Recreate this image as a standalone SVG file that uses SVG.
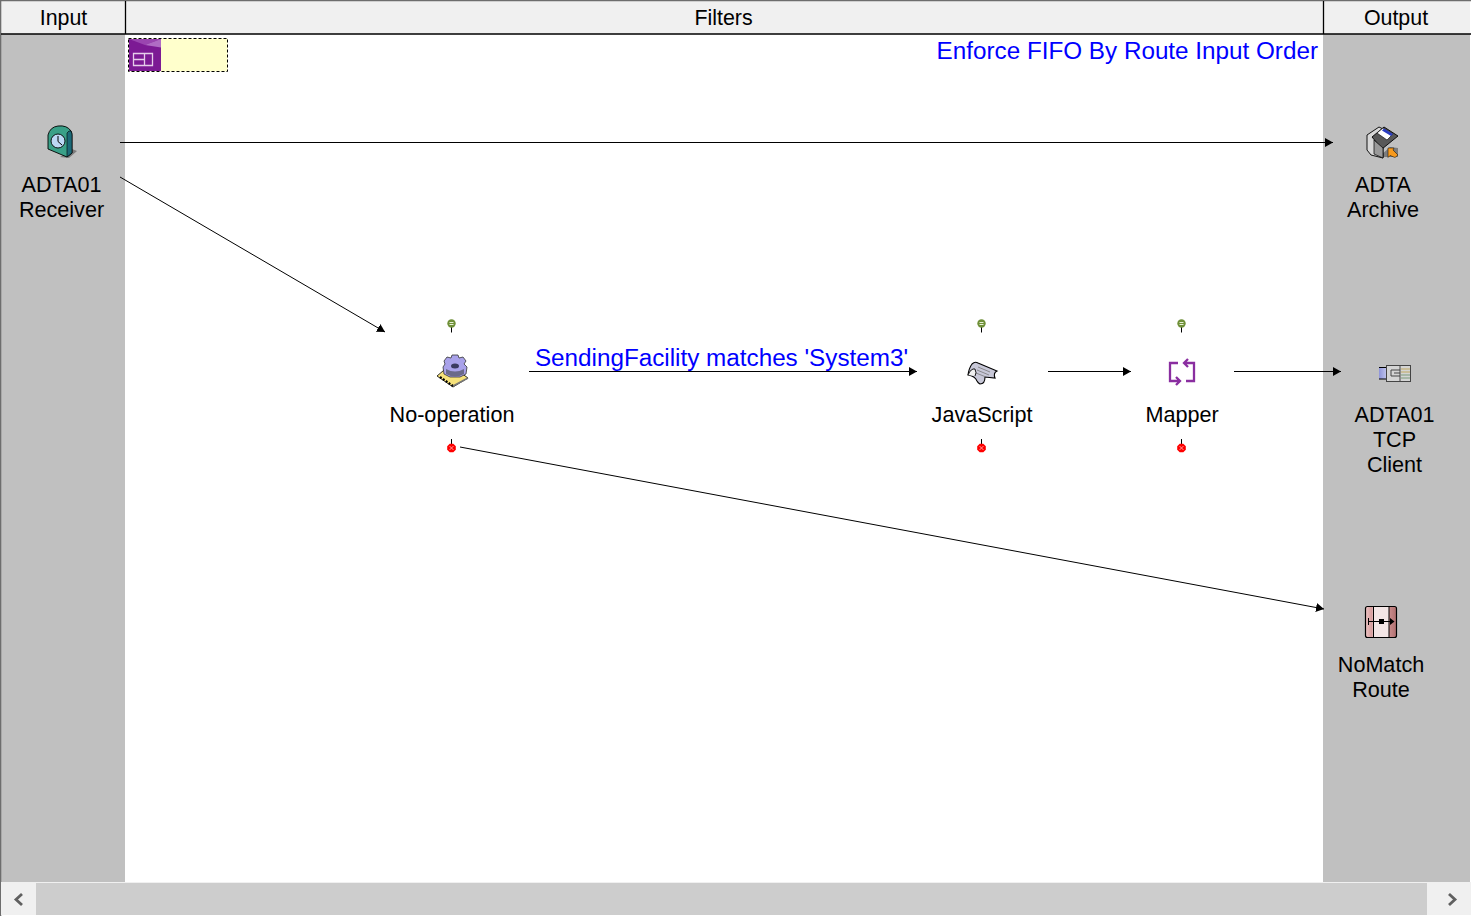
<svg xmlns="http://www.w3.org/2000/svg" width="1472" height="918" viewBox="0 0 1472 918">
<style>
text{font-family:"Liberation Sans",Arial,sans-serif;font-size:21.6px;fill:#000;text-anchor:middle}
.h{font-size:21.4px}
.blue{fill:#0000ff;font-size:24.25px}
.c{stroke:#000;stroke-width:1;fill:none;marker-end:url(#a)}
.pin{stroke:#000;stroke-width:1}
</style>
<defs>
<marker id="a" markerUnits="userSpaceOnUse" markerWidth="9" markerHeight="10" refX="8" refY="5" orient="auto"><path d="M0,0.5L8,5L0,9.5z" fill="#000"/></marker>
<linearGradient id="rt" x1="0" x2="1" y1="0" y2="0"><stop offset="0" stop-color="#eec6c6"/><stop offset=".22" stop-color="#d59a9a"/><stop offset=".24" stop-color="#f3e6e6"/><stop offset=".75" stop-color="#f3e6e6"/><stop offset=".77" stop-color="#c88c8c"/><stop offset="1" stop-color="#b06e6e"/></linearGradient>
<linearGradient id="cl" x1="0" x2="1" y1="0" y2="0"><stop offset="0" stop-color="#8f95da"/><stop offset="1" stop-color="#c4c8ee"/></linearGradient>
<g id="ok"><circle cx="0" cy="0" r="4.200" fill="#6f9038"/><path d="M-2,-1H2M-2,1H2" stroke="#e8f0d8" stroke-width="1"/><path d="M0,4V9" class="pin"/></g>
<g id="err"><path d="M0,-9V-4" class="pin"/><path d="M-1.800,-4.300H1.800L4.300,-1.800V1.800L1.800,4.300H-1.800L-4.300,1.800V-1.800z" fill="#ff0000"/><path d="M-2,-2L2,2M-2,2L2,-2" stroke="#ffc0c0" stroke-width=".8"/></g>
</defs>
<rect width="1472" height="918" fill="#fff"/>
<rect x="1" y="34" width="124" height="848" fill="#c0c0c0"/>
<rect x="1323" y="34" width="147" height="848" fill="#c0c0c0"/>
<g id="headers">
<rect x="1" y="1" width="1469" height="33" fill="#f0f0f0"/>
<path d="M0,.5H1471M.5,0V916" stroke="#6d6d6d" stroke-width="1.600" fill="none"/>
<path d="M1,34H1471M125.500,1V34M1323.500,1V34" stroke="#000" stroke-width="1.300" fill="none"/>
<text class="h" x="63.500" y="25">Input</text>
<text class="h" x="723.500" y="25">Filters</text>
<text class="h" x="1396" y="25">Output</text>
</g>
<g id="group-box">
<rect x="128.500" y="38.500" width="99" height="33" fill="#ffffcc" stroke="#000" stroke-dasharray="3 2"/>
<rect x="129" y="39" width="32" height="32" fill="#7c1a94"/>
<path d="M129,39H161L145,45z" fill="#9a45b0"/>
<path d="M161,39V47.500L145,45z" fill="#b06cc4"/>
<path d="M133.500,53.500H152.500V65.500H133.500zM144.500,53.500V65.500M133.500,59.500H144.500" stroke="#e6cdea" stroke-width="1.300" fill="none"/>
</g>
<text id="route-title" class="blue" x="1318" y="59" style="text-anchor:end">Enforce FIFO By Route Input Order</text>
<g id="connectors">
<path class="c" d="M120,142.500H1333"/>
<path class="c" d="M120,177L385,332"/>
<path class="c" d="M529,371.500H917"/>
<path class="c" d="M1048,371.500H1131"/>
<path class="c" d="M1234,371.500H1341"/>
<path class="c" d="M460,447L1324,609"/>
<text class="blue" x="721.500" y="366">SendingFacility matches 'System3'</text>
</g>
<g id="adta01-receiver">
<path d="M60,157l9,1l8,-7l-5,-2z" fill="#7c7c7c"/>
<path d="M48,135q2,-8 10,-9q9,-1 13,5q1,2 1,4v18l-5,4l-19,-8z" fill="#3aa088" stroke="#000" stroke-width=".9"/>
<path d="M67,133q2,-3 4,-2q1,2 1,4v18l-5,4z" fill="#1c6a78" stroke="#000" stroke-width=".6"/>
<circle cx="58" cy="141" r="7" fill="#bcd8f5" stroke="#000" stroke-width=".9"/>
<path d="M58,136V141.500L62,145" stroke="#000" fill="none"/>
<text x="61.500" y="192">ADTA01</text><text x="61.500" y="217">Receiver</text>
</g>
<g id="adta-archive">
<path d="M1380,156l10,-9l8,1v9h-14z" fill="#7c7c7c"/>
<path d="M1367,135L1379,127L1383,129V158L1371,155L1367,150z" fill="#d8d8d8" stroke="#000" stroke-width=".9"/>
<path d="M1372,137L1384,127L1398,136L1382,149z" fill="#585858" stroke="#000" stroke-width=".9"/>
<path d="M1374,140V154L1383,158V148z" fill="#9a9a9a" stroke="#000" stroke-width=".7"/>
<path d="M1383,128L1393,134L1387,140L1377,133z" fill="#fff" stroke="#000" stroke-width=".6"/>
<path d="M1384,128.500L1393,134L1391,136L1382,130.500z" fill="#2a3cc0"/>
<path d="M1388,148h6l-1,2l5,5l-3,2.500l-5,-2l-2,2z" fill="#f79a1e" stroke="#000" stroke-width=".5"/>
<text x="1383" y="192">ADTA</text><text x="1383" y="217">Archive</text>
</g>
<g id="no-operation">
<use href="#ok" x="451.500" y="323.500"/>
<path d="M437,376L450,365L468,378L453,387z" fill="#f6e27a" stroke="#000" stroke-width=".8"/>
<path d="M440,377L453,386" stroke="#000" stroke-width="2.200" stroke-dasharray="2 1.500"/>
<path d="M453,386L468,378" stroke="#777" stroke-width="1.500"/>
<path d="M452,355h6l1,3l4,-1l3,4l-2,3l3,3l-1,7l-6,3h-10l-6,-3l-1,-7l2,-3l-1,-3l3,-4l4,1z" fill="#a9a2ea" stroke="#333" stroke-width=".8"/>
<path d="M446,369v5q9,5 18,0v-5q-9,5 -18,0z" fill="#6a6a8a"/>
<ellipse cx="455" cy="366" rx="4" ry="2.500" fill="#3a3a60"/>
<text x="452" y="422">No-operation</text>
<use href="#err" x="451.500" y="448"/>
</g>
<g id="javascript">
<use href="#ok" x="981.500" y="323.500"/>
<path d="M972,364q3,-3 6,-1l19,8q-4,2 -2,7l-10,-1q0,7 -5,7q-2,-1 -3,-3q-2,-5 -9,-6q1,-7 4,-11z" fill="#c8c8d8" stroke="#000" stroke-width="1.100"/>
<path d="M978,367l12,5M977,370l12,5M976,373l10,4" stroke="#777" stroke-width=".8"/>
<path d="M968,375q3,-7 7,-6q2,4 0,7" fill="#f0f0f0" stroke="#000" stroke-width=".9"/>
<text x="982" y="422">JavaScript</text>
<use href="#err" x="981.500" y="448"/>
</g>
<g id="mapper">
<use href="#ok" x="1181.500" y="323.500"/>
<path d="M1178,363H1170V381H1179M1184,363H1194V381H1186M1188,359L1184,363L1188,367M1176,377L1180,381L1176,385" stroke="#8a2ea0" stroke-width="2.300" fill="none"/>
<text x="1182" y="422">Mapper</text>
<use href="#err" x="1181.500" y="448"/>
</g>
<g id="adta01-tcp-client">
<rect x="1379" y="368" width="8" height="11" fill="url(#cl)"/>
<path d="M1379,367.500H1387M1379,379H1387" stroke="#000"/>
<rect x="1386.500" y="365.500" width="24" height="16" fill="#d4d4d4" stroke="#444"/>
<path d="M1400,366V381" stroke="#444" fill="none"/>
<path d="M1400,370H1391V376H1400M1400,373H1394" stroke="#444" fill="none"/>
<path d="M1401,369H1410M1401,372H1410" stroke="#c0a860"/>
<path d="M1401,375H1410M1401,378H1410" stroke="#7a9a7a"/>
<text x="1394.500" y="422">ADTA01</text><text x="1394.500" y="447">TCP</text><text x="1394.500" y="472">Client</text>
</g>
<g id="nomatch-route">
<rect x="1365.500" y="606.500" width="31" height="31" rx="2" fill="url(#rt)" stroke="#000" stroke-width="1.200"/>
<path d="M1373.500,607V637M1389,607V637" stroke="#000"/>
<path d="M1368,621.500H1393M1368.500,618V625" stroke="#000"/>
<rect x="1379" y="619" width="5" height="5"/>
<path d="M1390,618L1394.500,621.500L1390,625z"/>
<text x="1381" y="672">NoMatch</text><text x="1381" y="697">Route</text>
</g>
<g id="scrollbar">
<rect x="1" y="882" width="1470" height="33" fill="#f0f0f0"/>
<rect x="36" y="883" width="1391" height="32" fill="#cdcdcd"/>
<path d="M22,894L16,899.500L22,905M1449,894L1455,899.500L1449,905" stroke="#606060" stroke-width="2.800" fill="none"/>
</g>
</svg>
